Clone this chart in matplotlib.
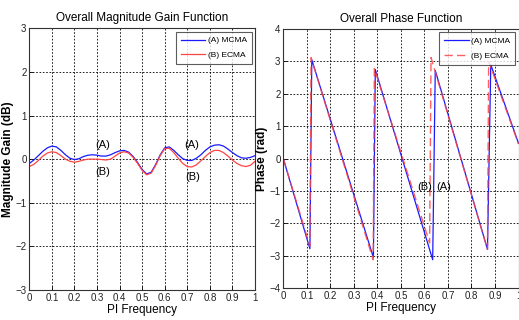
import matplotlib
matplotlib.use("Agg")
import matplotlib.pyplot as plt
from matplotlib import font_manager

# ---------------- data ----------------
freq_mag = [0.00, 0.02, 0.04, 0.06, 0.08, 0.10, 0.12, 0.14, 0.16, 0.18,
            0.20, 0.22, 0.24, 0.26, 0.28, 0.30, 0.32, 0.34, 0.36, 0.38,
            0.40, 0.42, 0.44, 0.46, 0.48, 0.50, 0.52, 0.54, 0.56, 0.58,
            0.60, 0.62, 0.64, 0.66, 0.68, 0.70, 0.72, 0.74, 0.76, 0.78,
            0.80, 0.82, 0.84, 0.86, 0.88, 0.90, 0.92, 0.94, 0.96, 0.98, 1.00]
mag_mcma = [-0.10, -0.02, 0.08, 0.18, 0.26, 0.30, 0.28, 0.20, 0.10, 0.02,
            -0.01, 0.01, 0.06, 0.09, 0.10, 0.09, 0.07, 0.07, 0.10, 0.15,
            0.19, 0.20, 0.16, 0.06, -0.08, -0.24, -0.34, -0.30, -0.12, 0.10,
            0.26, 0.28, 0.20, 0.10, 0.01, -0.03, -0.03, 0.02, 0.10, 0.20,
            0.28, 0.32, 0.33, 0.30, 0.23, 0.15, 0.08, 0.03, 0.02, 0.04, 0.08]
mag_ecma = [-0.17, -0.12, -0.03, 0.07, 0.14, 0.17, 0.15, 0.08, 0.00, -0.05,
            -0.07, -0.05, -0.02, 0.00, 0.00, 0.00, -0.01, -0.02, 0.00, 0.07,
            0.14, 0.17, 0.14, 0.04, -0.10, -0.26, -0.36, -0.32, -0.14, 0.08,
            0.24, 0.25, 0.15, 0.02, -0.10, -0.17, -0.18, -0.13, -0.04, 0.06,
            0.15, 0.20, 0.20, 0.15, 0.07, -0.02, -0.10, -0.15, -0.17, -0.14, -0.05]

freq_ph_mcma = [0.0, 0.113, 0.121, 0.383, 0.391, 0.635, 0.646, 0.868, 0.882, 1.0]
ph_mcma = [0.0, -2.78, 3.05, -3.05, 2.75, -3.12, 2.72, -2.80, 2.90, 0.47]
freq_ph_ecma = [0.0, 0.113, 0.118, 0.382, 0.387, 0.622, 0.628, 0.868, 0.873, 1.0]
ph_ecma = [0.0, -2.70, 3.12, -3.12, 2.78, -2.60, 3.12, -2.80, 3.00, 0.45]

xticks = [0, 0.1, 0.2, 0.3, 0.4, 0.5, 0.6, 0.7, 0.8, 0.9, 1]
xticklabels = ["0", "0.1", "0.2", "0.3", "0.4", "0.5", "0.6", "0.7", "0.8", "0.9", "1"]
mag_yticks = [-3, -2, -1, 0, 1, 2, 3]
ph_yticks = [-4, -3, -2, -1, 0, 1, 2, 3, 4]
labels = ["(A) MCMA", "(B) ECMA"]

# ---------------- fonts ----------------
avail = {f.name for f in font_manager.fontManager.ttflist}
cond = [f for f in font_manager.fontManager.ttflist if f.name == 'DejaVu Sans' and 'ondensed' in str(f.stretch)]
NARROW = ['Liberation Sans Narrow'] if 'Liberation Sans Narrow' in avail else ['Liberation Sans']
plt.rcParams['font.family'] = NARROW + ['DejaVu Sans']

BLUE = '#1a1aff'
RED = '#ff4444'

fig = plt.figure(figsize=(5.19, 3.20), dpi=100)
fig.patch.set_facecolor('white')

def style(ax, yticks, ylim, ylabel, title):
    ax.set_xlim(0, 1)
    ax.set_ylim(*ylim)
    ax.set_xticks(xticks)
    ax.set_xticklabels(xticklabels)
    ax.set_yticks(yticks)
    ax.tick_params(labelsize=7, length=3, direction='in', pad=2, width=0.6)
    for lab in ax.get_xticklabels() + ax.get_yticklabels():
        lab.set_fontstretch('condensed')
        lab.set_color('#222222')
    ax.grid(True, color='black', linestyle=(0, (2, 2)), linewidth=0.6)
    for s in ax.spines.values():
        s.set_linewidth(0.8)
        s.set_color('#333333')
    ax.set_xlabel("PI Frequency", fontsize=8.5, family=['Liberation Sans', 'DejaVu Sans'], labelpad=1)
    ax.set_ylabel(ylabel, fontsize=8.5, fontweight='bold', family=['Liberation Sans', 'DejaVu Sans'], labelpad=1)
    ax.set_title(title, fontsize=8.5, pad=5)

def legend(ax):
    leg = ax.legend(loc='upper right', fontsize=6, frameon=True, fancybox=False,
                    edgecolor='#333333', borderpad=0.6, handlelength=2.9,
                    handletextpad=0.3, labelspacing=0.8, borderaxespad=0.4)
    leg.get_frame().set_linewidth(0.8)
    return leg

# left: magnitude
ax1 = fig.add_axes([0.0565, 0.0938, 0.4349, 0.8178])
ax1.plot(freq_mag, mag_mcma, color=BLUE, lw=0.9, label=labels[0])
ax1.plot(freq_mag, mag_ecma, color=RED, lw=0.9, label=labels[1])
style(ax1, mag_yticks, (-3, 3), "Magnitude Gain (dB)", "Overall Magnitude Gain Function")
ax1.text(0.327, 0.32, "(A)", fontsize=8, ha='center', va='center')
ax1.text(0.72, 0.33, "(A)", fontsize=8, ha='center', va='center')
ax1.text(0.326, -0.29, "(B)", fontsize=8, ha='center', va='center')
ax1.text(0.724, -0.41, "(B)", fontsize=8, ha='center', va='center')
legend(ax1)

# right: phase
ax2 = fig.add_axes([0.5459, 0.0991, 0.4532, 0.8103])
ax2.plot(freq_ph_mcma, ph_mcma, color=BLUE, lw=0.9, label=labels[0])
ax2.plot(freq_ph_ecma, ph_ecma, color=RED, lw=1.0, alpha=0.85, linestyle=(0, (6, 3)), label=labels[1])
style(ax2, ph_yticks, (-4, 4), "Phase (rad)", "Overall Phase Function")
ax2.text(0.60, -0.89, "(B)", fontsize=8, ha='center', va='center')
ax2.text(0.682, -0.89, "(A)", fontsize=8, ha='center', va='center')
legend(ax2)

fig.savefig("out.png", dpi=100)
